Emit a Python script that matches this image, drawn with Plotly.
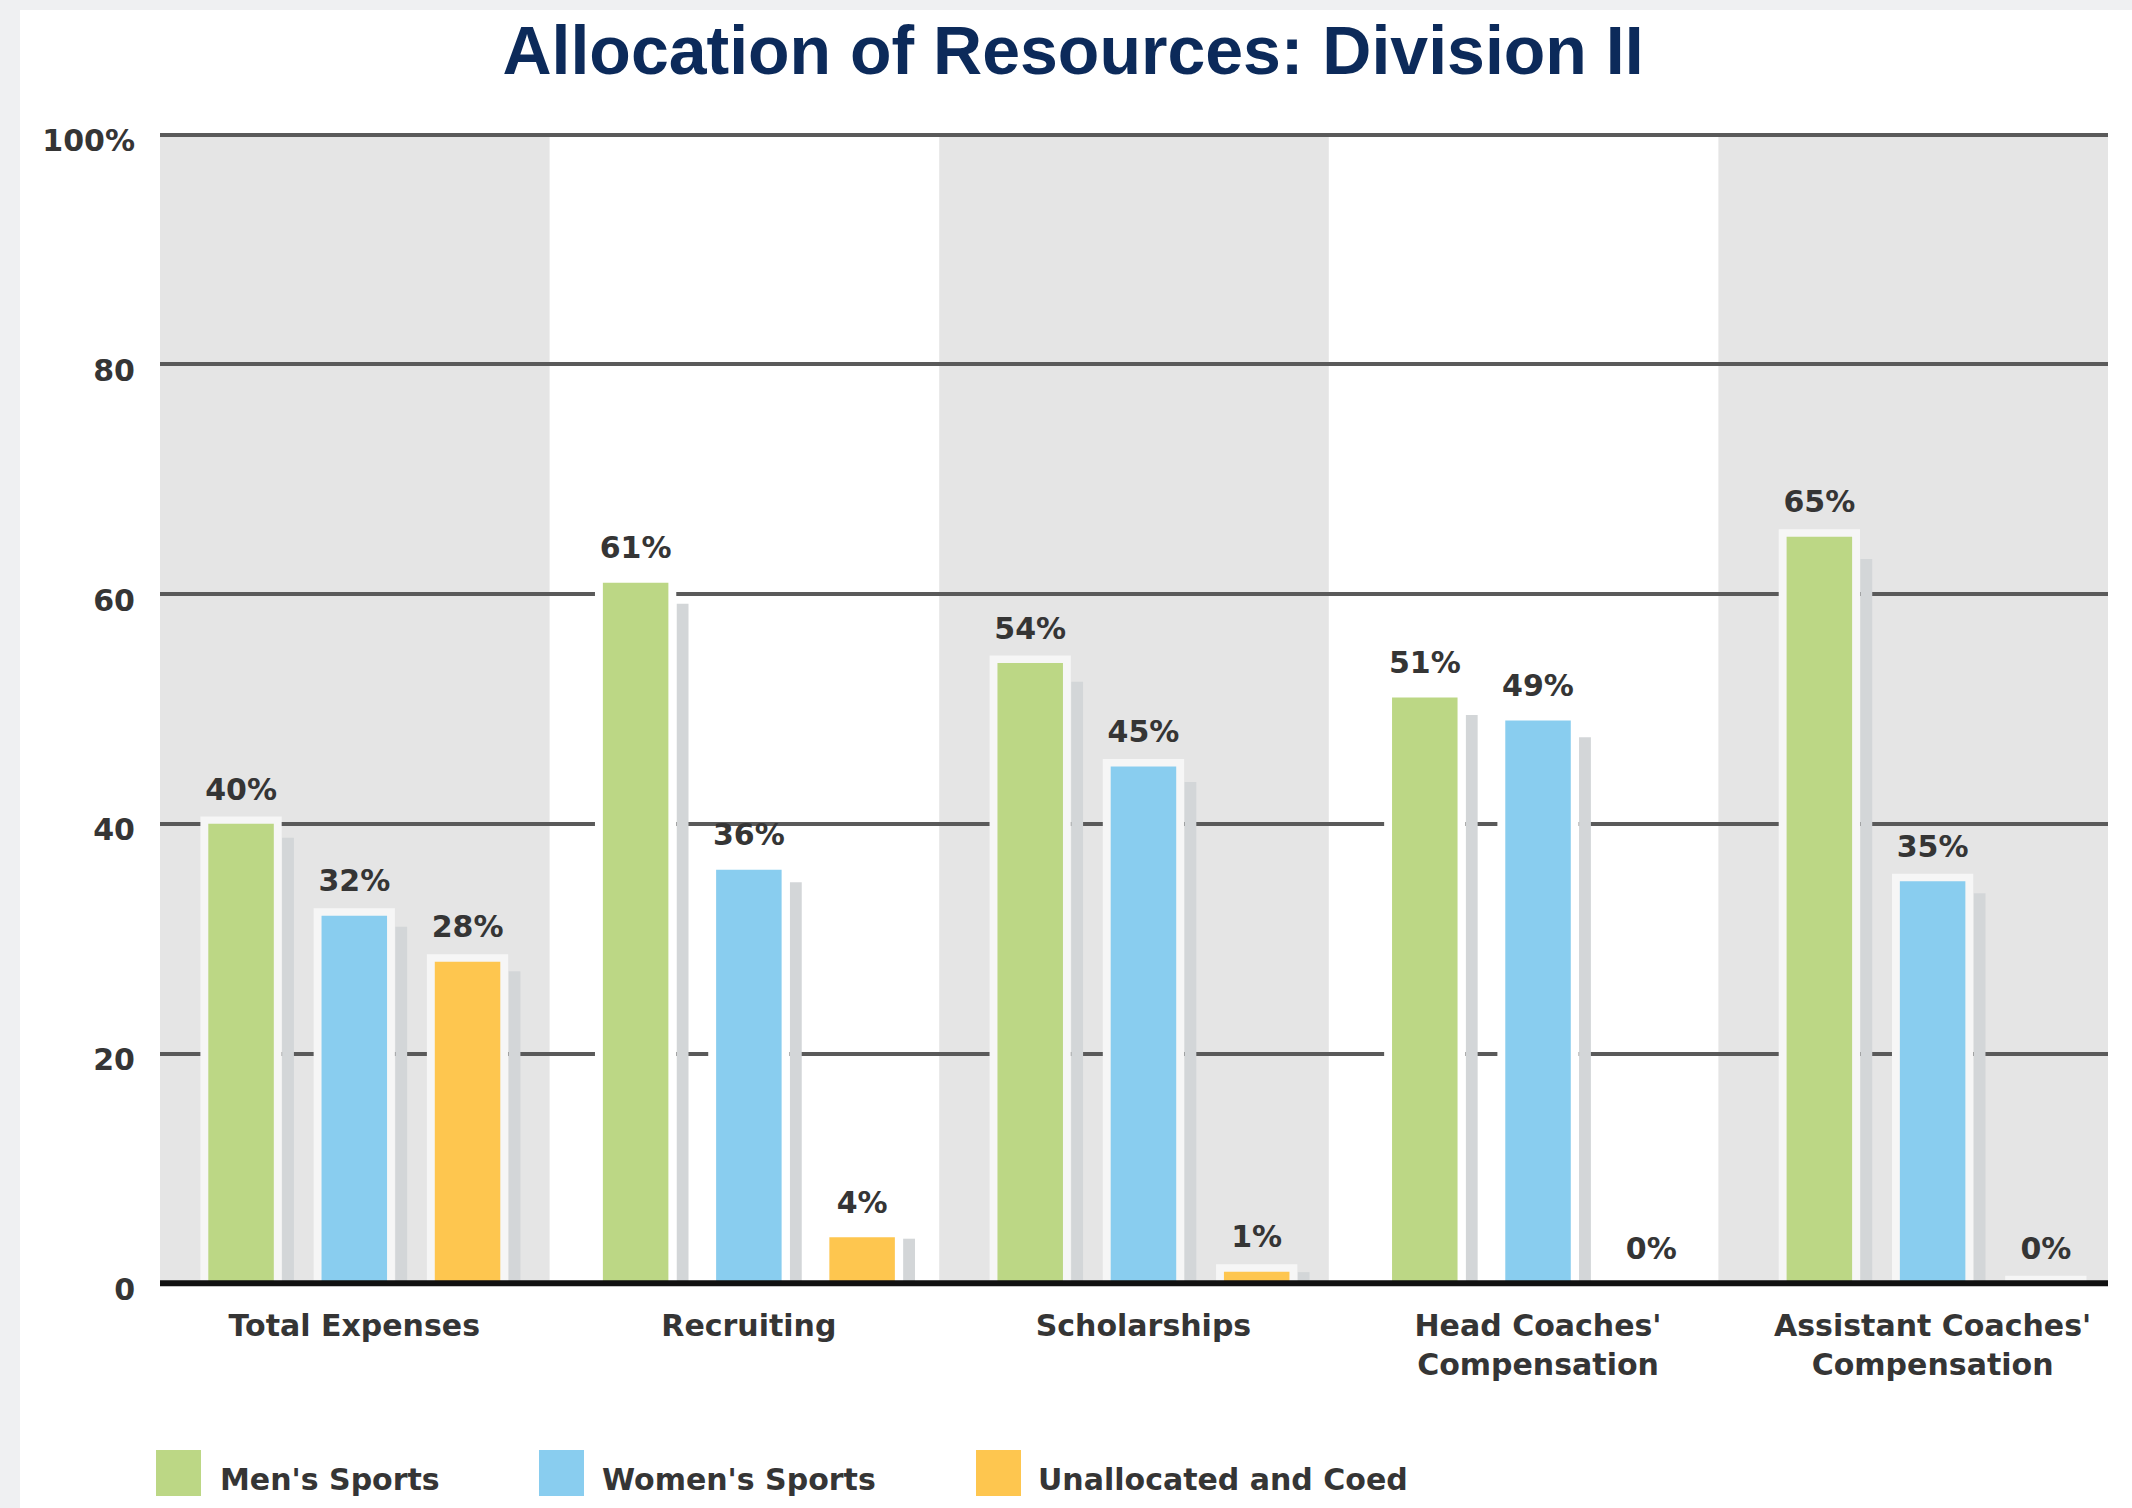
import plotly.graph_objects as go

# ---------------- data ----------------
categories = ["Total Expenses", "Recruiting", "Scholarships",
              "Head Coaches'<br>Compensation", "Assistant Coaches'<br>Compensation"]
mens_sports = [40, 61, 54, 51, 65]
womens_sports = [32, 36, 45, 49, 35]
unallocated_coed = [28, 4, 1, 0, 0]
series_names = ["Men's Sports", "Women's Sports", "Unallocated and Coed"]
ytick_vals = [0, 20, 40, 60, 80, 100]
ytick_text = ["0", "20", "40", "60", "80", "100%"]
title_text = "Allocation of Resources: Division II"

# ---------------- style ----------------
W, H = 2132, 1508
ML, MR, MT, MB = 160, 24, 129, 219
PW, PH = W - ML - MR, H - MT - MB
colors = ["#bcd785", "#89cdef", "#fec64f"]
band_color = "#e5e5e5"
shadow_color = "#d3d6d8"
grid_color = "#5a5a5a"
text_color = "#353535"
label_font = dict(family="DejaVu Sans", size=30, color=text_color, weight="bold")

series = [mens_sports, womens_sports, unallocated_coed]
group_offsets = [-0.287, 0.0, 0.287]
bar_w = 0.166
halo_w = 0.206
halo_pad = 0.65
label_pad = 1.25
shadow_left = 0.104
shadow_w = 0.03
halo_colors = ["#f6f6f6", "#ffffff", "#f6f6f6", "#ffffff", "#f6f6f6"]


def px_x(px):
    return (px - ML) / PW


def px_y(py):
    return (H - MB - py) / PH


fig = go.Figure()

# shadows
for vals, off in zip(series, group_offsets):
    fig.add_trace(go.Bar(
        x=categories, y=[v * 0.97 for v in vals],
        offset=off + shadow_left, width=shadow_w,
        marker=dict(color=shadow_color, line=dict(width=0)),
        showlegend=False, hoverinfo="skip"))

# light halos around bars
for vals, off in zip(series, group_offsets):
    fig.add_trace(go.Bar(
        x=categories, y=[v + halo_pad for v in vals],
        offset=off - halo_w / 2, width=halo_w,
        marker=dict(color=halo_colors, line=dict(width=0)),
        showlegend=False, hoverinfo="skip"))

# coloured bars
for vals, off, col, name in zip(series, group_offsets, colors, series_names):
    fig.add_trace(go.Bar(
        x=categories, y=vals, name=name,
        offset=off - bar_w / 2, width=bar_w,
        marker=dict(color=col, line=dict(width=0)),
        showlegend=False))

# value labels (transparent carrier bars)
for vals, off in zip(series, group_offsets):
    fig.add_trace(go.Bar(
        x=categories, y=[v + label_pad for v in vals],
        offset=off - bar_w / 2, width=bar_w,
        marker=dict(color="rgba(0,0,0,0)", line=dict(width=0)),
        text=[f"{v}%" for v in vals], textposition="outside",
        textfont=label_font, constraintext="none", cliponaxis=False,
        showlegend=False, hoverinfo="skip"))

shapes = []
# alternating category bands
for i in (0, 2, 4):
    shapes.append(dict(type="rect", xref="paper", yref="y",
                       x0=i * 0.2, x1=(i + 1) * 0.2, y0=0, y1=100,
                       fillcolor=band_color, line=dict(width=0), layer="below"))
# baseline
shapes.append(dict(type="line", xref="paper", yref="y", x0=0, x1=1, y0=0, y1=0,
                   line=dict(color="#111111", width=6), layer="above"))
# page strips
shapes.append(dict(type="rect", xref="paper", yref="paper",
                   x0=px_x(0), x1=px_x(20), y0=px_y(H), y1=px_y(0),
                   fillcolor="#eff0f2", line=dict(width=0), layer="below"))
shapes.append(dict(type="rect", xref="paper", yref="paper",
                   x0=px_x(0), x1=px_x(W), y0=px_y(10), y1=px_y(0),
                   fillcolor="#eff0f2", line=dict(width=0), layer="below"))

# manual legend
annotations = []
legend_swatch_x = [156, 539, 976]
legend_text_x = [218, 600, 1036]
for sx, tx, col, name in zip(legend_swatch_x, legend_text_x, colors, series_names):
    shapes.append(dict(type="rect", xref="paper", yref="paper",
                       x0=px_x(sx), x1=px_x(sx + 45), y0=px_y(1496), y1=px_y(1450),
                       fillcolor=col, line=dict(width=0)))
    annotations.append(dict(xref="paper", yref="paper", x=px_x(tx), y=px_y(1479),
                            xanchor="left", yanchor="middle", showarrow=False,
                            text=name, font=label_font))

fig.update_layout(
    width=W, height=H,
    margin=dict(l=ML, r=MR, t=MT, b=MB, pad=0),
    paper_bgcolor="white", plot_bgcolor="white",
    barmode="overlay",
    showlegend=False,
    title=dict(text=title_text, x=1073 / W, xref="container", xanchor="center",
               y=1 - 50 / H, yref="container", yanchor="middle",
               font=dict(family="Liberation Sans", size=68, color="#0c2a5a", weight="bold")),
    xaxis=dict(type="category", range=[-0.4924, 4.4445], showgrid=False,
               zeroline=False, showline=False, ticks="", tickfont=label_font,
               ticklabelstandoff=16),
    yaxis=dict(range=[-0.5, 100.5], tickvals=ytick_vals, ticktext=ytick_text,
               showgrid=True, gridcolor=grid_color, gridwidth=4, zeroline=False,
               showline=False, ticks="", tickfont=label_font,
               ticklabelstandoff=24, ticklabelshift=6),
    shapes=shapes, annotations=annotations,
)

fig.write_html(
    "out.html",
    config={"displayModeBar": False},
    post_script="document.body.style.margin='0px';document.body.style.overflow='hidden';",
)
